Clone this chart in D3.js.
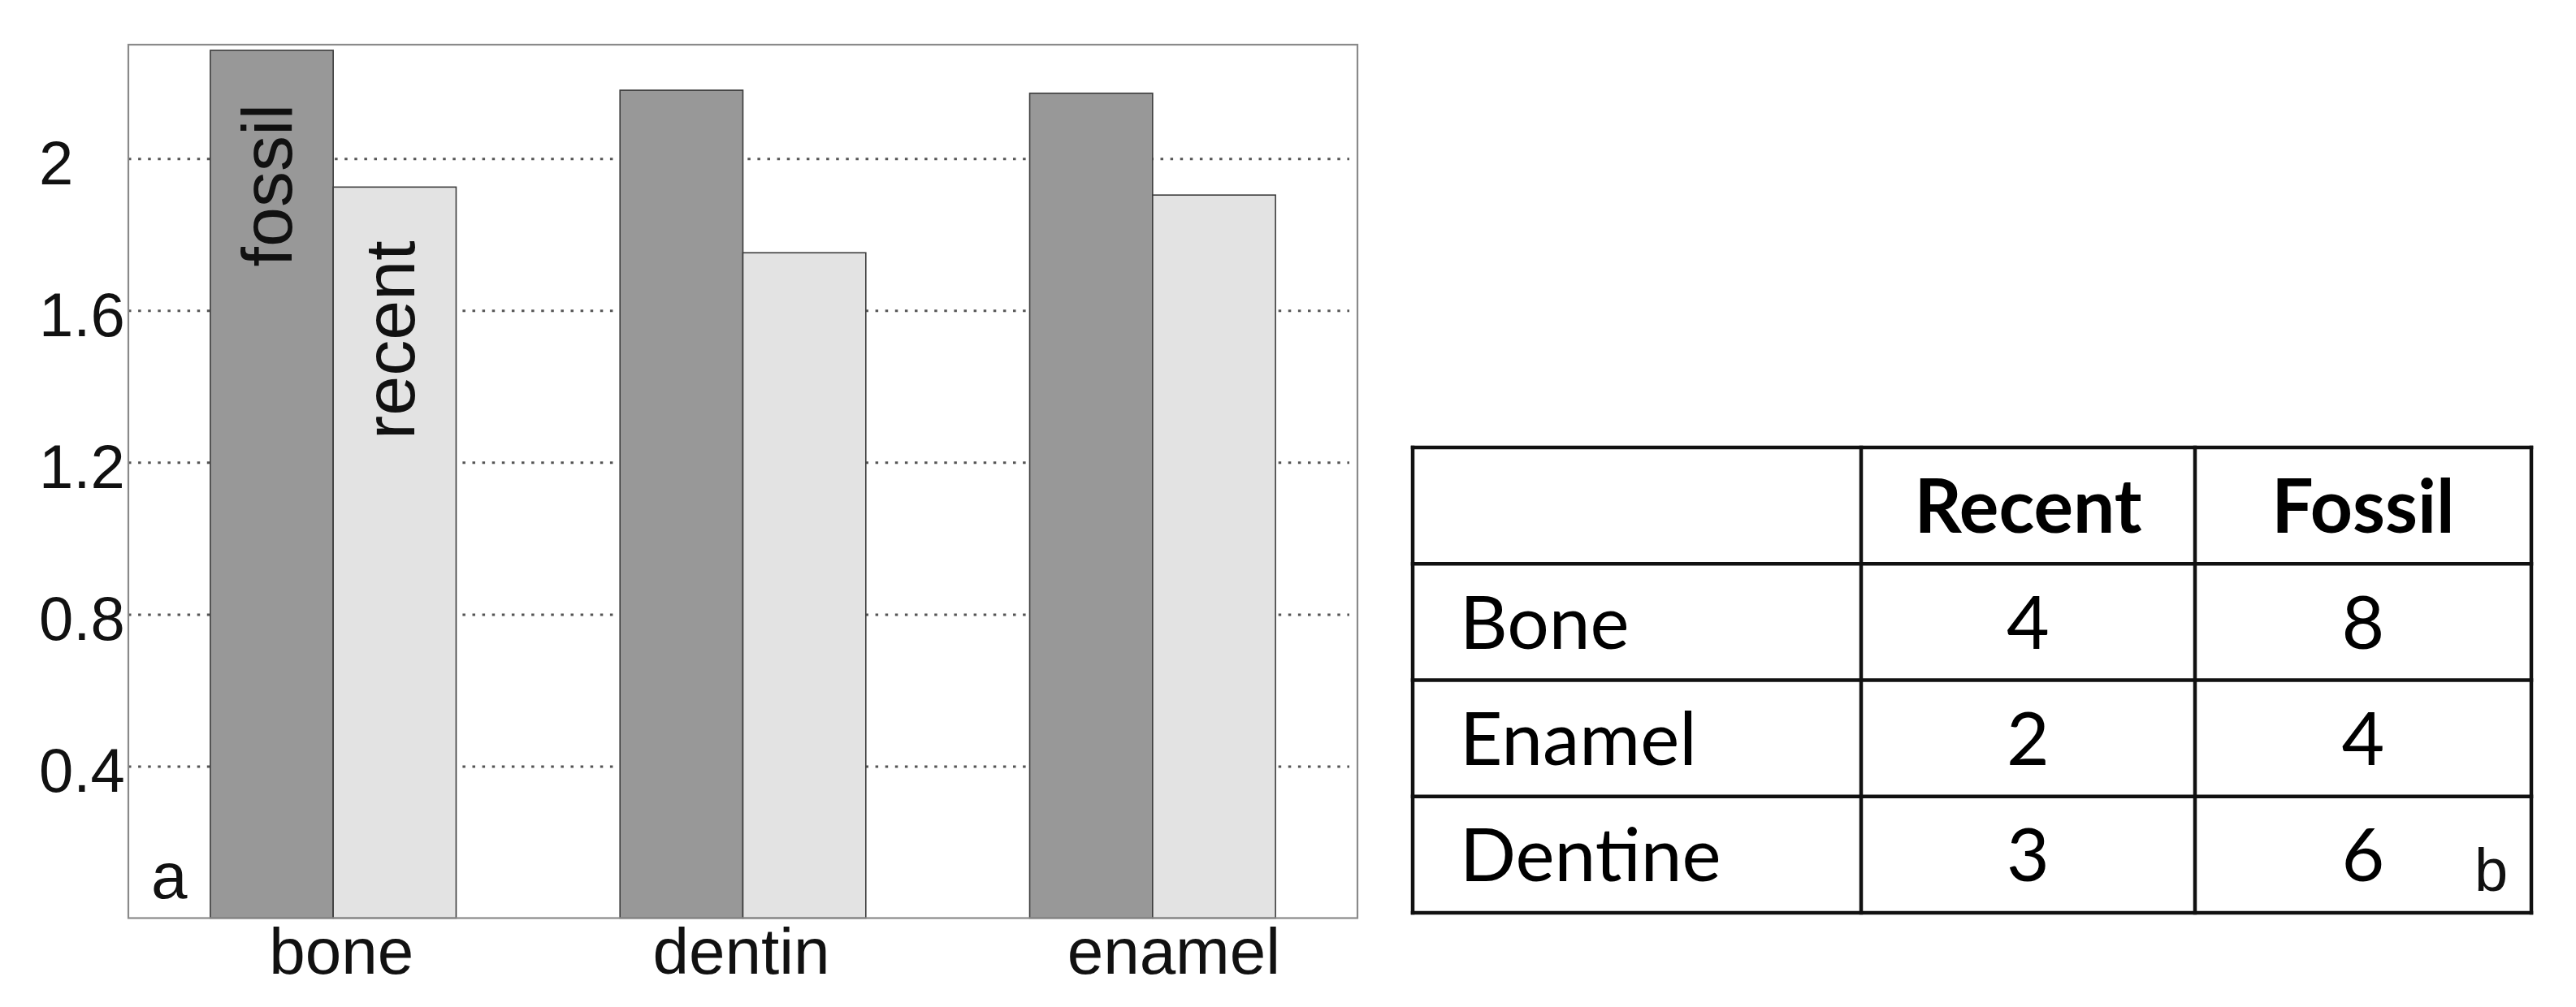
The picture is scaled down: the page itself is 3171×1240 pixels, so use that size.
<!DOCTYPE html>
<html><head><meta charset="utf-8">
<script src="https://cdn.jsdelivr.net/npm/d3@7"></script>
<style>html,body{margin:0;padding:0;background:#fff;}svg{display:block;}</style>
</head><body>
<script>
// ---- data ----
const categories = ["bone", "dentin", "enamel"];
const seriesNames = ["fossil", "recent"];
const fossilValues = [2.285, 2.18, 2.172];
const recentValues = [1.925, 1.752, 1.904];
const yTicks = [0.4, 0.8, 1.2, 1.6, 2];
const yTickLabels = ["0.4", "0.8", "1.2", "1.6", "2"];
const tableHeader = ["", "Recent", "Fossil"];
const tableRowNames = ["Bone", "Enamel", "Dentine"];
const tableRecent = [4, 2, 3];
const tableFossil = [8, 4, 6];
const panelLabels = ["a", "b"];

// ---- layout ----
const W = 3171, H = 1240;
const plot = {left: 158, right: 1671, top: 55, bottom: 1130.5};
const svg = d3.select("body").append("svg").attr("width", W).attr("height", H);
svg.append("rect").attr("width", W).attr("height", H).attr("fill", "#fff");

const y = d3.scaleLinear().domain([0, 2.3]).range([plot.bottom, plot.top]);
const x0 = d3.scaleBand().domain(categories).range([plot.left, plot.right]).paddingInner(0.4).paddingOuter(0.2);
const x1 = d3.scaleBand().domain(seriesNames).range([0, x0.bandwidth()]);
const fills = {fossil: "#989898", recent: "#e3e3e3"};

// gridlines (dotted) via axis
const grid = svg.append("g").attr("transform", `translate(${plot.left},0)`)
  .call(d3.axisLeft(y).tickValues(yTicks).tickSize(-(plot.right - plot.left - 10)).tickFormat(""));
grid.select(".domain").remove();
grid.selectAll(".tick line").attr("stroke", "#555").attr("stroke-width", 3).attr("stroke-dasharray", "3.5,8.6");

// y tick labels (left aligned)
const yAxis = svg.append("g").attr("transform", `translate(${plot.left},0)`)
  .call(d3.axisLeft(y).tickValues(yTicks).tickSize(0).tickFormat((d, i) => yTickLabels[i]));
yAxis.select(".domain").remove();
yAxis.selectAll(".tick text").attr("text-anchor", "start").attr("x", 48 - plot.left).attr("dy", "0.41em")
  .attr("font-family", "Liberation Sans, Arial, sans-serif").attr("font-size", 76).attr("fill", "#111");

// bars
const rows = categories.map((c, i) => ({cat: c, fossil: fossilValues[i], recent: recentValues[i]}));
const groups = svg.append("g").selectAll("g").data(rows).join("g")
  .attr("transform", d => `translate(${x0(d.cat)},0)`);
groups.selectAll("rect").data(d => seriesNames.map(s => ({s, v: d[s]}))).join("rect")
  .attr("x", d => x1(d.s)).attr("width", x1.bandwidth())
  .attr("y", d => y(d.v)).attr("height", d => y(0) - y(d.v))
  .attr("fill", d => fills[d.s]).attr("stroke", "#3c3c3c").attr("stroke-width", 1.6);

// rotated series labels in first group
const first = rows[0];
seriesNames.forEach(s => {
  const cx = x0(first.cat) + x1(s) + x1.bandwidth() / 2 + 24;
  const cy = y(first[s]) + 66;
  svg.append("text").attr("transform", `translate(${cx},${cy}) rotate(-90)`)
    .attr("text-anchor", "end").attr("font-family", "Liberation Sans, Arial, sans-serif")
    .attr("font-size", 88).attr("fill", "#111").text(s);
});

// frame
svg.append("rect").attr("x", plot.left).attr("y", plot.top).attr("width", plot.right - plot.left)
  .attr("height", plot.bottom - plot.top).attr("fill", "none").attr("stroke", "#8a8a8a").attr("stroke-width", 2.2);

// x labels
const xAxis = svg.append("g").attr("transform", `translate(0,${plot.bottom})`)
  .call(d3.axisBottom(x0).tickSize(0));
xAxis.select(".domain").remove();
xAxis.selectAll(".tick text").attr("y", 68).attr("dy", 0).attr("dx", (d, i) => [10, -2, 26][i])
  .attr("font-family", "Liberation Sans, Arial, sans-serif").attr("font-size", 80).attr("fill", "#111");

// panel label a
svg.append("text").attr("x", plot.left + 28).attr("y", plot.bottom - 25)
  .attr("font-family", "Liberation Sans, Arial, sans-serif").attr("font-size", 80).attr("fill", "#111").text(panelLabels[0]);

// ---- table ----
const tbl = {left: 1739, right: 3116, top: 551, bottom: 1124};
const colEdges = [tbl.left, 2291, 2702, tbl.right];
const rowScale = d3.scaleBand().domain(["header", ...tableRowNames]).range([tbl.top, tbl.bottom]);
const tg = svg.append("g");
const tableFont = "Lato, 'Open Sans', sans-serif";
rowScale.domain().forEach(r => {
  tg.append("line").attr("x1", tbl.left).attr("x2", tbl.right).attr("y1", rowScale(r)).attr("y2", rowScale(r));
});
tg.append("line").attr("x1", tbl.left).attr("x2", tbl.right).attr("y1", tbl.bottom).attr("y2", tbl.bottom);
colEdges.forEach(cx => {
  tg.append("line").attr("x1", cx).attr("x2", cx).attr("y1", tbl.top).attr("y2", tbl.bottom);
});
tg.selectAll("line").attr("stroke", "#111").attr("stroke-width", 4.5).attr("stroke-linecap", "square");

const colCenter = i => (colEdges[i] + colEdges[i + 1]) / 2;
const rowBase = r => rowScale(r) + rowScale.bandwidth() / 2 + 33;
tableHeader.forEach((h, i) => {
  if (!h) return;
  tg.append("text").attr("x", colCenter(i)).attr("y", rowBase("header")).attr("text-anchor", "middle")
    .attr("font-family", tableFont).attr("font-weight", "bold").attr("font-size", 91).attr("fill", "#000").text(h);
});
tableRowNames.forEach((r, i) => {
  tg.append("text").attr("x", tbl.left + 58).attr("y", rowBase(r))
    .attr("font-family", tableFont).attr("font-size", 91).attr("fill", "#000").text(r);
  tg.append("text").attr("x", colCenter(1)).attr("y", rowBase(r)).attr("text-anchor", "middle")
    .attr("font-family", tableFont).attr("font-size", 91).attr("fill", "#000").text(tableRecent[i]);
  tg.append("text").attr("x", colCenter(2)).attr("y", rowBase(r)).attr("text-anchor", "middle")
    .attr("font-family", tableFont).attr("font-size", 91).attr("fill", "#000").text(tableFossil[i]);
});
svg.append("text").attr("x", tbl.right - 70).attr("y", tbl.bottom - 27)
  .attr("font-family", "Liberation Sans, Arial, sans-serif").attr("font-size", 74).attr("fill", "#111").text(panelLabels[1]);
</script>
</body></html>
